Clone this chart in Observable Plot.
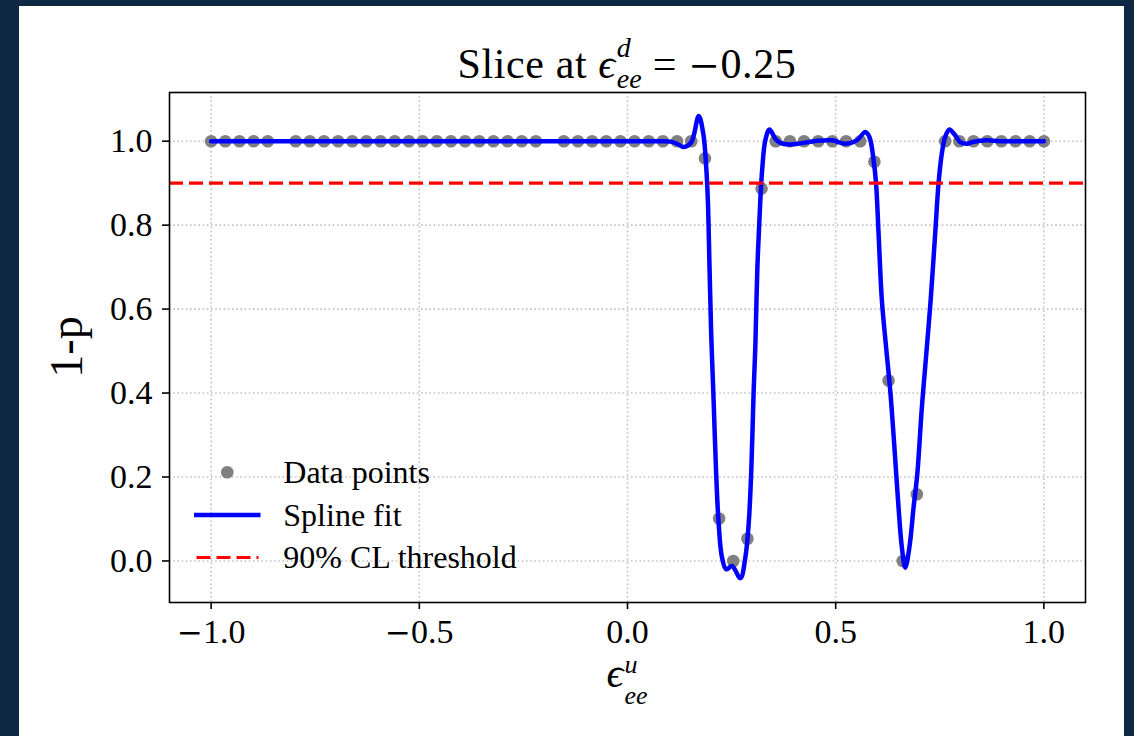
<!DOCTYPE html>
<html>
<head>
<meta charset="utf-8">
<script src="https://cdn.jsdelivr.net/npm/d3@7"></script>
<script src="https://cdn.jsdelivr.net/npm/@observablehq/plot@0.6"></script>
<style>
  html, body { margin: 0; padding: 0; }
  body { width: 1134px; height: 736px; background: #0e2742; overflow: hidden; position: relative;
         font-family: "Liberation Serif", "DejaVu Serif", serif; color: #000; }
  #panel { position: absolute; left: 19px; top: 6px; width: 1105px; height: 730px; background: #fff; }
  .lbl { position: absolute; left: 150px; width: 916px; text-align: center; white-space: nowrap; }
  #title { top: 37px; font-size: 42px; line-height: 42px; letter-spacing: 0.6px; }
  #xlabel { top: 646px; font-size: 42px; line-height: 42px; }
  .m { font-style: italic; font-family: "Liberation Serif", "DejaVu Serif", serif; }
  .mm { font-family: "DejaVu Serif", serif; font-size: 0.9em; }
  .ss { display: inline-flex; flex-direction: column; position: relative; font-style: italic; text-align: left; letter-spacing: 0; }
  .ss > span { display: block; }
  #chart svg { position: absolute; left: 0; top: 82px; }
</style>
</head>
<body>
<div id="panel">
  <div id="title" class="lbl">Slice at <span class="m">ϵ</span><span class="ss" style="font-size:28px;top:-21px;margin-left:1px"><span style="line-height:14px">d</span><span style="line-height:14px;margin-top:17px">ee</span></span> = <span class="mm">−</span>0.25</div>
  <div id="chart"></div>
  <div id="xlabel" class="lbl"><span class="m">ϵ</span><span class="ss" style="font-size:26px;top:-14px;margin-left:1px"><span style="line-height:14px">u</span><span style="line-height:14px;margin-top:17px">ee</span></span></div>
</div>
<script>
// ---- data ----
const xTicks = [-1.0, -0.5, 0.0, 0.5, 1.0];
const yTicks = [0.0, 0.2, 0.4, 0.6, 0.8, 1.0];
const threshold = 0.9;
const yLabel = "1-p";

const pointsX = [-1.000, -0.966, -0.932, -0.898, -0.864, -0.797, -0.763, -0.729, -0.695, -0.661,
  -0.627, -0.593, -0.559, -0.525, -0.492, -0.458, -0.424, -0.390, -0.356, -0.322,
  -0.288, -0.254, -0.220, -0.153, -0.119, -0.085, -0.051, -0.017, 0.017, 0.051,
  0.085, 0.119, 0.153, 0.186, 0.220, 0.254, 0.288, 0.322, 0.356, 0.390,
  0.424, 0.458, 0.492, 0.525, 0.559, 0.593, 0.627, 0.661, 0.695, 0.763,
  0.797, 0.831, 0.864, 0.898, 0.932, 0.966, 1.000];
const pointsY = [1, 1, 1, 1, 1, 1, 1, 1, 1, 1,
  1, 1, 1, 1, 1, 1, 1, 1, 1, 1,
  1, 1, 1, 1, 1, 1, 1, 1, 1, 1,
  1, 1, 1, 0.959, 0.101, 0.0, 0.053, 0.887, 1, 1,
  1, 1, 1, 1, 1, 0.951, 0.430, 0.0, 0.159, 1,
  1, 1, 1, 1, 1, 1, 1];

const splineX = [-1.0, -0.5, 0.0, 0.079, 0.103, 0.119, 0.135, 0.153, 0.171, 0.182,
  0.189, 0.193, 0.197, 0.201, 0.206, 0.213, 0.219, 0.227, 0.237, 0.251,
  0.271, 0.283, 0.291, 0.297, 0.303, 0.307, 0.312, 0.319, 0.324, 0.331,
  0.341, 0.355, 0.367, 0.388, 0.422, 0.456, 0.491, 0.524, 0.551, 0.571,
  0.581, 0.591, 0.597, 0.603, 0.611, 0.621, 0.631, 0.640, 0.651, 0.659,
  0.667, 0.677, 0.687, 0.696, 0.707, 0.719, 0.728, 0.739, 0.747, 0.755,
  0.763, 0.773, 0.787, 0.799, 0.815, 0.829, 0.863, 0.894, 1.0];
const splineY = [1.0, 1.0, 1.0, 1.0, 0.999, 0.994, 0.986, 0.997, 1.06, 1.018,
  0.939, 0.859, 0.70, 0.541, 0.406, 0.207, 0.088, 0.008, -0.02, -0.012,
  -0.041, 0.008, 0.088, 0.207, 0.406, 0.51, 0.70, 0.859, 0.939, 1.002,
  1.028, 1.006, 0.996, 0.992, 0.996, 1.001, 1.002, 0.994, 1.002, 1.022,
  1.01, 0.955, 0.899, 0.78, 0.62, 0.51, 0.406, 0.286, 0.127, 0.032,
  -0.016, 0.032, 0.127, 0.207, 0.366, 0.51, 0.62, 0.78, 0.899, 0.971,
  1.01, 1.028, 1.014, 0.998, 0.994, 0.998, 1.002, 1.0, 1.0];

const legendLabels = ["Data points", "Spline fit", "90% CL threshold"];

// ---- tables for the library ----
const points = pointsX.map((x, i) => ({x, y: pointsY[i]}));
const spline = splineX.map((x, i) => ({x, y: splineY[i]}));

const gridStyle = {stroke: "#c2c2c2", strokeOpacity: 1, strokeWidth: 1.6, strokeDasharray: "1.6,2.6"};
const fmt = d3.format(".1f");

const chart = Plot.plot({
  width: 1105,
  height: 562,
  marginLeft: 150,
  marginRight: 39,
  marginTop: 4,
  marginBottom: 48,
  style: {fontFamily: '"Liberation Serif", serif', fontSize: "34px", color: "black", background: "transparent", overflow: "visible"},
  x: {domain: [-1.1, 1.1]},
  y: {domain: [-0.099, 1.116]},
  marks: [
    Plot.gridX(xTicks, gridStyle),
    Plot.gridY(yTicks, gridStyle),
    Plot.dot(points, {x: "x", y: "y", r: 6.3, fill: "gray"}),
    Plot.line(spline, {x: "x", y: "y", stroke: "blue", strokeWidth: 4.5, curve: "catmull-rom"}),
    Plot.ruleY([threshold], {stroke: "red", strokeWidth: 3.2, strokeDasharray: "14,6"}),
    Plot.axisX(xTicks, {tickSize: 7, tickPadding: 9, tickFormat: fmt, label: null, strokeWidth: 1.6}),
    Plot.axisY(yTicks, {tickSize: 7, tickPadding: 10, tickFormat: fmt, label: null, strokeWidth: 1.6}),
    Plot.frame({stroke: "black", strokeWidth: 1.6})
  ]
});

document.getElementById("chart").appendChild(chart);
const svg = d3.select(chart);

// longer (math-style) minus sign in tick labels
svg.selectAll("text").each(function() {
  const t = d3.select(this);
  const s = t.text();
  if (s.startsWith("−") && !this.querySelector("tspan")) {
    t.text(null);
    t.append("tspan").attr("font-family", "DejaVu Serif").attr("font-size", 31).text("−");
    t.append("tspan").text(s.slice(1));
  }
});

// y-axis label, rotated, left of the frame
svg.append("text")
  .attr("transform", "translate(63,259) rotate(-90)")
  .attr("text-anchor", "middle")
  .attr("font-size", 46)
  .attr("fill", "black")
  .text(yLabel);

// legend (inside the frame, lower left)
const lg = svg.append("g").attr("class", "legend");
lg.append("circle").attr("cx", 208.3).attr("cy", 384.3).attr("r", 6.3).attr("fill", "gray");
lg.append("line").attr("x1", 175).attr("x2", 241.5).attr("y1", 427).attr("y2", 427)
  .attr("stroke", "blue").attr("stroke-width", 4.5);
lg.append("line").attr("x1", 177.5).attr("x2", 239.5).attr("y1", 469.5).attr("y2", 469.5)
  .attr("stroke", "red").attr("stroke-width", 3.2).attr("stroke-dasharray", "14,6");
const baselines = [395.3, 437.5, 480.3];
legendLabels.forEach((t, i) => {
  lg.append("text").attr("x", 264.3).attr("y", baselines[i])
    .attr("text-anchor", "start").attr("font-size", 32).attr("fill", "black").text(t);
});
</script>
</body>
</html>
